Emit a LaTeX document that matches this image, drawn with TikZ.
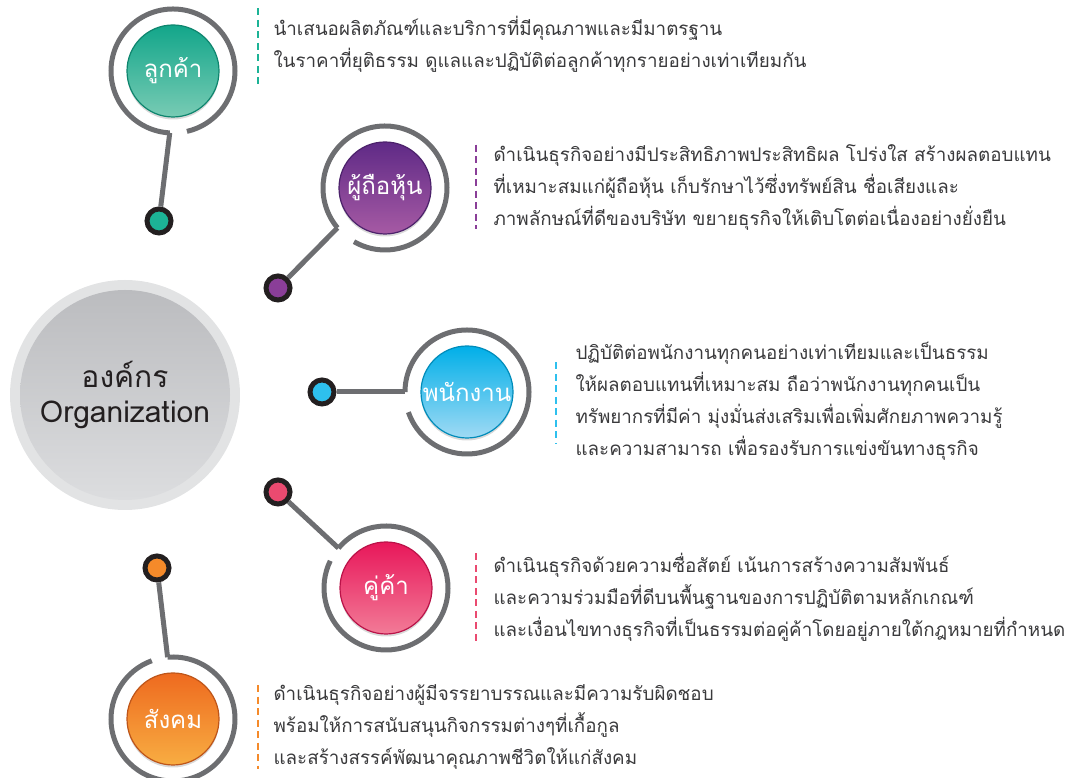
\documentclass[tikz,border=0pt]{standalone}
\usepackage{fontspec}
\newfontfamily\thaifont[Script=Thai]{Loma}
\usetikzlibrary{positioning, calc, shadows}
\definecolor{ringgrey}{HTML}{6D6E71}
\definecolor{dotblack}{HTML}{231F20}
\definecolor{textgrey}{HTML}{3A3A3C}
\definecolor{orgrim}{HTML}{E2E3E4}
\definecolor{orgtop}{HTML}{BBBCBF}
\definecolor{orgbottom}{HTML}{DCDDDF}
\definecolor{tealtop}{HTML}{12A68A}
\definecolor{tealbottom}{HTML}{78CBB4}
\definecolor{tealmid}{HTML}{1CB396}
\definecolor{purpletop}{HTML}{5F2A86}
\definecolor{purplebottom}{HTML}{A65AA4}
\definecolor{purplemid}{HTML}{8A3E98}
\definecolor{cyantop}{HTML}{00AFE8}
\definecolor{cyanbottom}{HTML}{A0DAF4}
\definecolor{cyanmid}{HTML}{2EC0EE}
\definecolor{pinktop}{HTML}{E8175A}
\definecolor{pinkbottom}{HTML}{F27B97}
\definecolor{pinkmid}{HTML}{EA4A70}
\definecolor{orangetop}{HTML}{EE6A1F}
\definecolor{orangebottom}{HTML}{F8AD42}
\definecolor{orangemid}{HTML}{F58A2A}

\begin{document}
\begin{tikzpicture}[
        x=1pt, y=1pt,
        topic/.style={circle, minimum size=92pt, inner sep=0pt, text=white,
            font=\thaifont\fontsize{24}{26}\selectfont,
            drop shadow={opacity=0.3, shadow xshift=0pt, shadow yshift=-2.5pt}},
        ring/.style={ringgrey, line width=5pt},
        dot/.style={circle, draw=dotblack, line width=5pt, minimum size=24pt, inner sep=0pt},
        dashline/.style={line width=2.6pt, dash pattern=on 7pt off 4.5pt},
        desc/.style={anchor=west, align=left, text=textgrey,
            font=\thaifont\fontsize{18.8}{32}\selectfont}
    ]
    \useasboundingbox (0,0) rectangle (1071,778);

    % Organization circle
    \node[circle, fill=orgrim, minimum size=230pt] (orgrim) at (125,383) {};
    \node[circle, top color=orgtop, bottom color=orgbottom, minimum size=210pt,
        text=dotblack, align=center, font=\thaifont\fontsize{30}{35}\selectfont]
        (org) at (125,383) {องค์กร\\Organization};

    % Customers
    \node[topic, top color=tealtop, bottom color=tealbottom, draw=tealtop!80!black, line width=1.2pt] (cust) at (173,707) {ลูกค้า};
    \node[dot, fill=tealmid] (custdot) at (159,557) {};
    \coordinate (custj) at ($(cust)+(267:62)$);
    \draw[ring] (custj) arc[start angle=267, end angle=-77, radius=62];
    \draw[ring] (custdot) -- (custj);
    \node[desc] (custtxt) at (270,734) {นำเสนอผลิตภัณฑ์และบริการที่มีคุณภาพและมีมาตรฐาน\\ในราคาที่ยุติธรรม ดูแลและปฏิบัติต่อลูกค้าทุกรายอย่างเท่าเทียมกัน};
    \draw[dashline, tealmid] ([xshift=-12pt,yshift=4pt]custtxt.north west) -- ([xshift=-12pt,yshift=-8pt]custtxt.south west);

    % Shareholders
    \node[topic, top color=purpletop, bottom color=purplebottom, draw=purpletop!80!black, line width=1.2pt] (share) at (385,590) {ผู้ถือหุ้น};
    \node[dot, fill=purplemid] (sharedot) at (278,490) {};
    \coordinate (sharej) at ($(share)+(220:62)$);
    \draw[ring] (sharej) arc[start angle=220, end angle=-120, radius=62];
    \draw[ring] (sharedot) -- (sharej);
    \node[desc] (sharetxt) at (490,591) {ดำเนินธุรกิจอย่างมีประสิทธิภาพประสิทธิผล โปร่งใส สร้างผลตอบแทน\\ที่เหมาะสมแก่ผู้ถือหุ้น เก็บรักษาไว้ซึ่งทรัพย์สิน ชื่อเสียงและ\\ภาพลักษณ์ที่ดีของบริษัท ขยายธุรกิจให้เติบโตต่อเนื่องอย่างยั่งยืน};
    \draw[dashline, purplemid] ([xshift=-14pt,yshift=-4pt]sharetxt.north west) -- ([xshift=-14pt,yshift=4pt]sharetxt.south west);

    % Employees
    \node[topic, top color=cyantop, bottom color=cyanbottom, draw=cyantop!80!black, line width=1.2pt] (staff) at (467,386) {พนักงาน};
    \node[dot, fill=cyanmid] (staffdot) at (322,386) {};
    \coordinate (staffj) at ($(staff)+(180:62)$);
    \draw[ring] (staffj) arc[start angle=180, end angle=-161, radius=62];
    \draw[ring] (staffdot) -- (staffj);
    \node[desc] (stafftxt) at (572,377) {ปฏิบัติต่อพนักงานทุกคนอย่างเท่าเทียมและเป็นธรรม\\ให้ผลตอบแทนที่เหมาะสม ถือว่าพนักงานทุกคนเป็น\\ทรัพยากรที่มีค่า มุ่งมั่นส่งเสริมเพื่อเพิ่มศักยภาพความรู้\\และความสามารถ เพื่อรองรับการแข่งขันทางธุรกิจ};
    \draw[dashline, cyanmid] ([xshift=-16pt,yshift=-24pt]stafftxt.north west) -- ([xshift=-16pt,yshift=20pt]stafftxt.south west);

    % Partners
    \node[topic, top color=pinktop, bottom color=pinkbottom, draw=pinktop!80!black, line width=1.2pt] (partner) at (386,190) {คู่ค้า};
    \node[dot, fill=pinkmid] (partnerdot) at (278,286) {};
    \coordinate (partnerj) at ($(partner)+(140:62)$);
    \draw[ring] (partnerj) arc[start angle=140, end angle=-206, radius=62];
    \draw[ring] (partnerdot) -- (partnerj);
    \node[desc] (partnertxt) at (490,181) {ดำเนินธุรกิจด้วยความซื่อสัตย์ เน้นการสร้างความสัมพันธ์\\และความร่วมมือที่ดีบนพื้นฐานของการปฏิบัติตามหลักเกณฑ์\\และเงื่อนไขทางธุรกิจที่เป็นธรรมต่อคู่ค้าโดยอยู่ภายใต้กฎหมายที่กำหนด};
    \draw[dashline, pinkmid] ([xshift=-14pt,yshift=-4pt]partnertxt.north west) -- ([xshift=-14pt,yshift=4pt]partnertxt.south west);

    % Society
    \node[topic, top color=orangetop, bottom color=orangebottom, draw=orangetop!80!black, line width=1.2pt] (society) at (173,59) {สังคม};
    \node[dot, fill=orangemid] (societydot) at (157,210) {};
    \coordinate (societyj) at ($(society)+(95:62)$);
    \draw[ring] (societyj) arc[start angle=95, end angle=-250, radius=62];
    \draw[ring] (societydot) -- (societyj);
    \node[desc] (societytxt) at (270,51) {ดำเนินธุรกิจอย่างผู้มีจรรยาบรรณและมีความรับผิดชอบ\\พร้อมให้การสนับสนุนกิจกรรมต่างๆที่เกื้อกูล\\และสร้างสรรค์พัฒนาคุณภาพชีวิตให้แก่สังคม};
    \draw[dashline, orangemid] ([xshift=-12pt,yshift=-4pt]societytxt.north west) -- ([xshift=-12pt,yshift=4pt]societytxt.south west);
\end{tikzpicture}
\end{document}
